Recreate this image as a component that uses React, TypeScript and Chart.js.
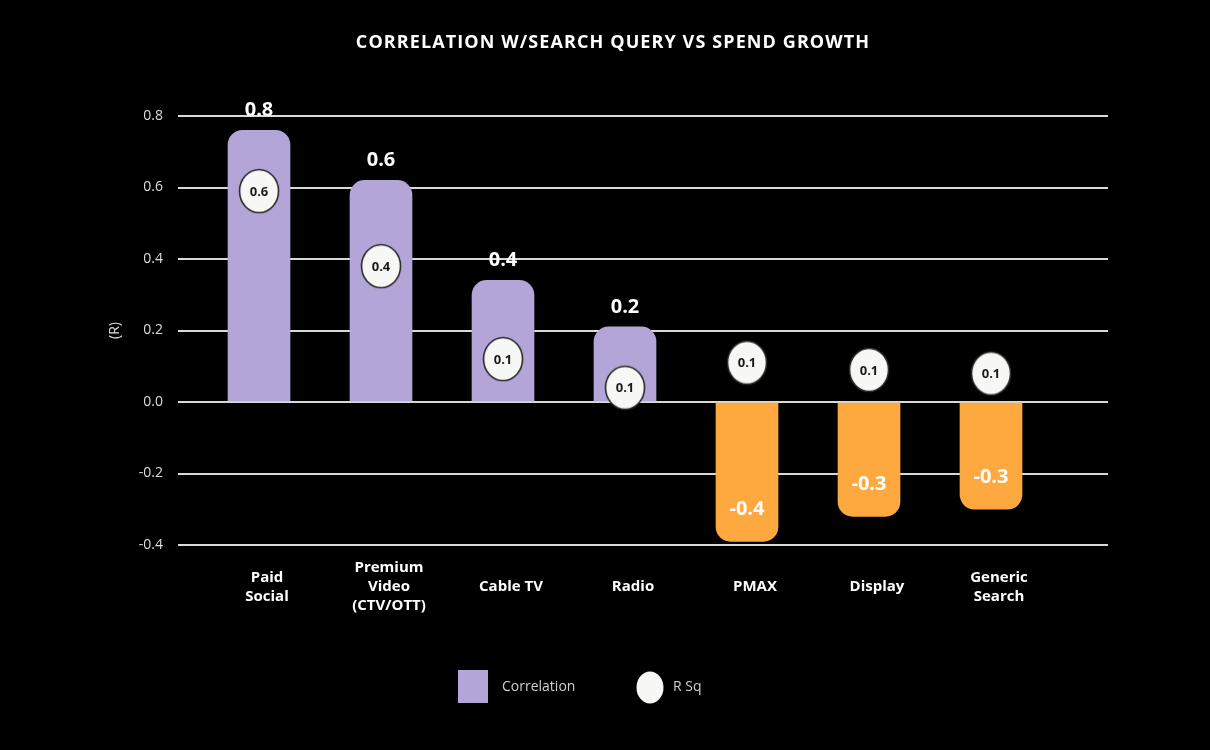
import React, { useEffect, useRef } from "react";
import { Chart, registerables } from "chart.js";

Chart.register(...registerables);

const TITLE = "CORRELATION W/SEARCH QUERY VS SPEND GROWTH";
const categories: (string | string[])[] = [
  ["Paid", "Social"],
  ["Premium", "Video", "(CTV/OTT)"],
  "Cable TV",
  "Radio",
  "PMAX",
  "Display",
  ["Generic", "Search"],
];
const correlation = [0.76, 0.62, 0.34, 0.21, -0.39, -0.32, -0.3];
const correlationLabels = ["0.8", "0.6", "0.4", "0.2", "-0.4", "-0.3", "-0.3"];
const rSq = [0.59, 0.38, 0.12, 0.04, 0.11, 0.09, 0.08];
const rSqLabels = ["0.6", "0.4", "0.1", "0.1", "0.1", "0.1", "0.1"];
const yTicks = [-0.4, -0.2, 0.0, 0.2, 0.4, 0.6, 0.8];

const PURPLE = "#b3a5d8";
const ORANGE = "#fea93f";
const FONT = '"Open Sans", sans-serif';

function makeEllipse(w: number, h: number, stroke: boolean) {
  const c = document.createElement("canvas");
  c.width = w;
  c.height = h;
  const ctx = c.getContext("2d")!;
  ctx.beginPath();
  ctx.ellipse(w / 2, h / 2, w / 2 - 1.5, h / 2 - 1.5, 0, 0, Math.PI * 2);
  ctx.fillStyle = "#f7f7f5";
  ctx.fill();
  if (stroke) {
    ctx.lineWidth = 1.6;
    ctx.strokeStyle = "#2a2a2a";
    ctx.stroke();
  }
  return c;
}

export default function App() {
  const ref = useRef<HTMLCanvasElement>(null);

  useEffect(() => {
    document.body.style.margin = "0";
    document.body.style.background = "#000";
    const pointImg = makeEllipse(42, 46, true);

    const overlay = {
      id: "overlay",
      afterDraw(chart: any) {
        const ctx = chart.ctx;
        ctx.save();
        // title
        ctx.fillStyle = "#ffffff";
        ctx.font = `bold 18px ${FONT}`;
        ctx.textAlign = "center";
        ctx.textBaseline = "middle";
        (ctx as any).letterSpacing = "1.1px";
        ctx.fillText(TITLE, 613, 43);
        (ctx as any).letterSpacing = "0px";

        // correlation labels
        const barMeta = chart.getDatasetMeta(1);
        barMeta.data.forEach((bar: any, i: number) => {
          const v = correlation[i];
          ctx.font = `bold 20px ${FONT}`;
          ctx.fillStyle = "#ffffff";
          ctx.textAlign = "center";
          ctx.textBaseline = "middle";
          if (v >= 0) {
            ctx.fillText(correlationLabels[i], bar.x, bar.y - 20);
          } else {
            ctx.fillText(correlationLabels[i], bar.x, bar.y - 32);
          }
        });
        // r sq labels
        const ptMeta = chart.getDatasetMeta(0);
        ptMeta.data.forEach((pt: any, i: number) => {
          ctx.font = `bold 13px ${FONT}`;
          ctx.fillStyle = "#1a1a1a";
          ctx.textAlign = "center";
          ctx.textBaseline = "middle";
          ctx.fillText(rSqLabels[i], pt.x, pt.y + 1);
        });

        // legend
        ctx.fillStyle = PURPLE;
        ctx.fillRect(458, 670, 30, 33);
        ctx.font = `14px ${FONT}`;
        ctx.fillStyle = "#cfcfcf";
        ctx.textAlign = "left";
        ctx.fillText("Correlation", 502, 687);
        const legImg = makeEllipse(30, 35, false);
        ctx.drawImage(legImg, 635, 670);
        ctx.fillText("R Sq", 673, 687);
        ctx.restore();
      },
    };

    const chart = new Chart(ref.current!, {
      data: {
        datasets: [
          {
            type: "line",
            label: "R Sq",
            data: rSq.map((v, i) => ({ x: i, y: v })),
            showLine: false,
            pointStyle: pointImg as any,
            pointRadius: 20,
            pointHoverRadius: 20,
            order: 0,
          },
          {
            type: "bar",
            label: "Correlation",
            data: correlation.map((v, i) => ({ x: i, y: v })),
            backgroundColor: correlation.map((v) => (v >= 0 ? PURPLE : ORANGE)),
            barThickness: 62,
            borderRadius: 15,
            borderSkipped: "start",
            order: 1,
          },
        ],
      } as any,
      options: {
        animation: false,
        responsive: true,
        maintainAspectRatio: false,
        layout: { padding: { left: 0, right: 102, top: 116, bottom: 125 } },
        plugins: {
          legend: { display: false },
          title: { display: false },
          tooltip: { enabled: false },
        },
        scales: {
          x: {
            type: "linear",
            offset: false,
            min: -0.664,
            max: 6.959,
            bounds: "data",
            grid: { display: false, drawTicks: false, offset: false },
            border: { display: false },
            afterFit: (s: any) => {
              s.height = 80;
            },
            afterBuildTicks: (s: any) => {
              s.ticks = categories.map((_, i) => ({ value: i }));
            },
            ticks: {
              autoSkip: false,
              maxRotation: 0,
              minRotation: 0,
              padding: 23,
              labelOffset: 8,
              crossAlign: "center",
              color: "#ffffff",
              font: { family: FONT, size: 15, weight: "bold", lineHeight: 1.27 },
              callback: (v: any) => {
                const i = Math.round(Number(v));
                return Math.abs(Number(v) - i) < 1e-6 && categories[i] ? categories[i] : "";
              },
            },
          },
          y: {
            type: "linear",
            min: -0.4,
            max: 0.8,
            afterFit: (s: any) => {
              s.width = 178;
            },
            afterBuildTicks: (s: any) => {
              s.ticks = yTicks.map((v) => ({ value: v }));
            },
            grid: {
              color: "#d9d9d9",
              lineWidth: 2,
              drawTicks: false,
            },
            border: { display: false },
            title: {
              display: true,
              text: "(R)",
              color: "#dddddd",
              font: { family: FONT, size: 14 },
              padding: { top: 107, bottom: 0 },
            },
            ticks: {
              padding: 15,
              color: "#dddddd",
              font: { family: FONT, size: 14 },
              callback: (v: any) => {
                const n = Number(v);
                return Math.abs(n) < 1e-9 ? "0.0" : n.toFixed(1);
              },
            },
          },
        },
      } as any,
      plugins: [overlay],
    });
    return () => chart.destroy();
  }, []);

  return (
    <div style={{ width: 1210, height: 750, background: "#000", position: "relative" }}>
      <canvas ref={ref} />
    </div>
  );
}
